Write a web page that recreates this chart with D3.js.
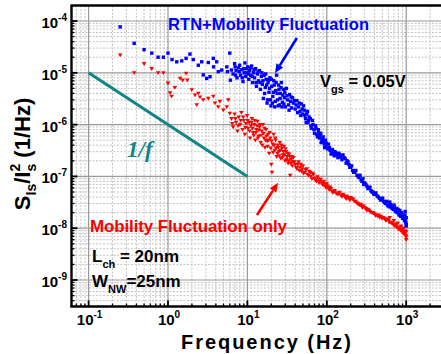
<!DOCTYPE html>
<html><head><meta charset="utf-8">
<script src="https://cdn.jsdelivr.net/npm/d3@7"></script>
<style>
body{margin:0;background:#fff}
svg{display:block}
text{font-family:"Liberation Sans",Arial,Helvetica,sans-serif;font-weight:bold}
text.serif{font-family:"Liberation Serif","Times New Roman",serif;font-style:italic}
</style>
</head><body>
<svg id="chart" width="441" height="354"></svg>
<script>
// decade tick exponents
const xTickExps = [-1, 0, 1, 2, 3];
const yTickExps = [-9, -8, -7, -6, -5, -4];

// Normalized drain-current noise spectrum, RTN + mobility fluctuation [Hz, 1/Hz]
const rtnSpectrum = [
  [0.25,7.7e-5],[0.375,3.7e-5],[0.5,2.8e-5],[0.625,2.4e-5],[0.75,2.0e-5],[0.875,2.0e-5],[1.0,2.4e-5],
  [1.125,1.8e-5],[1.29,1.63e-5],[1.49,1.7e-5],[1.69,1.9e-5],[1.89,2.3e-5],[2.08,1.8e-5],[2.41,1.4e-5],
  [2.66,1.63e-5],[2.78,9.1e-6],[3.07,7.8e-6],[3.22,1.58e-5],[3.38,8.4e-6],[3.72,1.9e-5],[3.75,1.3e-5],
  [4.1,1.63e-5],[4.3,1.05e-5],[4.75,1.13e-5],[5.5,1.3e-5],[5.6,1.05e-5],[6.0,2.4e-5],[6.1,7.2e-6],
  [6.3,1.13e-5],[7.0,1.3e-5],[6.6,9.5e-6],[6.9,1.5e-5],[7.2,1.1e-5],[7.4,8.0e-6],[7.7,1.25e-5],
  [8.0,1.4e-5],[8.2,9.0e-6],[8.5,1.15e-5],[8.8,6.8e-6],[9.0,1.2e-5],[9.3,1.55e-5],[9.5,8.5e-6],
  [9.8,1.0e-5],[10.1,1.3e-5],[10.4,7.5e-6],[10.7,1.1e-5],[11.0,9.0e-6],[11.3,1.35e-5],[11.6,6.5e-6],
  [12.0,1.0e-5],[12.3,8.0e-6],[12.7,1.2e-5],[13.0,5.5e-6],[13.4,9.5e-6],[13.8,7.0e-6],[14.2,1.1e-5],
  [14.6,4.8e-6],[15.0,8.5e-6],[15.4,6.0e-6],[15.9,3.2e-6],[16.3,9.0e-6],[16.8,5.2e-6],[17.2,7.5e-6],
  [17.7,2.6e-6],[18.2,6.5e-6],[18.7,4.2e-6],[19.2,8.0e-6],[19.8,2.3e-6],[20.3,5.5e-6],[20.9,3.5e-6],
  [21.5,7.0e-6],[22.1,2.2e-6],[22.7,4.5e-6],[23.3,9.0e-6],[24.0,3.0e-6],[24.7,5.8e-6],[25.4,2.4e-6],
  [26.1,4.0e-6],[26.8,6.5e-6],[27.6,2.7e-6],[28.4,4.8e-6],[29.2,3.3e-6],[30,2.2e-6],[31,5.0e-6],
  [7.1,9.0e-6],[7.9,1.05e-5],[8.6,8.0e-6],[9.1,1.0e-5],[9.7,1.2e-5],[10.3,9.5e-6],[10.9,1.25e-5],
  [11.5,8.5e-6],[12.1,1.15e-5],[12.9,6.5e-6],[13.6,1.05e-5],[14.4,6.5e-6],[15.2,1.0e-5],[15.7,7.0e-6],
  [16.5,4.0e-6],[17.0,9.5e-6],[17.5,5.8e-6],[18.0,3.0e-6],[18.5,7.2e-6],[19.0,5.0e-6],[19.5,3.0e-6],
  [20.1,7.5e-6],[20.6,2.6e-6],[21.2,4.2e-6],[21.8,5.8e-6],[22.4,2.8e-6],[23.0,6.5e-6],[23.7,4.0e-6],
  [24.4,2.3e-6],[25.0,4.8e-6],[25.8,3.2e-6],[26.5,5.2e-6],[27.2,2.2e-6],[28.0,3.7e-6],[28.8,2.5e-6],
  [29.6,4.2e-6],
  [32,3.0e-6],[33,2.4e-6],[34,3.8e-6],[35,2.8e-6],[36,2.1e-6],[37,3.3e-6],[38,2.6e-6],[40,2.0e-6],
  [42,2.9e-6],[44,2.2e-6],[46,1.8e-6],[48,2.5e-6],[50,1.6e-6],[52,1.9e-6],[54,1.3e-6],[56,1.6e-6],
  [58,1.1e-6],[60,1.4e-6],[63,9.5e-7],[66,1.2e-6],[69,8.0e-7],[72,9.5e-7],[75,6.5e-7],[78,8.0e-7],
  [81,5.5e-7],[84,6.8e-7],[87,4.8e-7],[90,5.8e-7],[93,4.2e-7],[96,5.0e-7],[100,3.8e-7],[105,4.2e-7],
  [31.5,3.6e-6],[33.5,1.9e-6],[35.5,3.4e-6],[39,2.9e-6],[41,2.4e-6],[43,1.7e-6],[45,2.6e-6],[47,1.5e-6],
  [49,2.0e-6],[51,2.3e-6],[53,1.5e-6],[55,1.1e-6],[57,1.8e-6],[59,1.2e-6],[62,1.3e-6],[64,8.5e-7],
  [67,1.0e-6],[70,6.8e-7],[73,8.5e-7],[76,5.8e-7],[79,7.0e-7],[82,6.2e-7],[85,4.5e-7],[88,5.2e-7],
  [91,4.8e-7],[94,3.6e-7],[98,4.4e-7],[102,3.4e-7],
  [110,3.2e-7],[115,3.0e-7],[120,2.8e-7],[127,3.0e-7],[135,2.6e-7],[142,2.8e-7],[150,2.4e-7],
  [160,2.6e-7],[170,2.2e-7],[180,2.0e-7],[190,1.7e-7],[200,1.5e-7],[212,1.3e-7],[225,1.2e-7],
  [240,1.05e-7],[255,9.5e-8],[270,8.5e-8],[285,9.0e-8],[300,7.5e-8],[320,6.5e-8],[340,6.0e-8],
  [108,3.6e-7],[113,2.7e-7],[118,3.3e-7],[124,2.5e-7],[131,2.8e-7],[138,2.3e-7],[146,2.6e-7],
  [155,2.1e-7],[165,2.3e-7],[175,1.8e-7],[185,1.9e-7],[195,1.5e-7],[205,1.6e-7],[218,1.2e-7],
  [232,1.3e-7],[248,1.0e-7],[262,1.05e-7],[278,8.0e-8],[292,7.0e-8],[310,7.0e-8],[330,5.8e-8],
  [360,5.3e-8],[380,5.0e-8],[400,4.5e-8],[430,4.2e-8],[460,3.8e-8],[490,3.6e-8],[520,3.3e-8],
  [550,3.0e-8],[580,2.8e-8],[610,2.6e-8],[650,2.5e-8],[690,2.3e-8],[730,2.1e-8],[770,2.0e-8],
  [810,1.8e-8],[850,1.7e-8],[900,1.55e-8],[950,1.4e-8],[1000,1.2e-8],[620,3.2e-8],[700,2.8e-8],
  [760,2.4e-8],[830,2.2e-8],[880,1.9e-8],[960,1.8e-8],[1000,1.6e-8],
  [350,6.2e-8],[370,5.0e-8],[390,4.6e-8],[415,4.8e-8],[445,4.0e-8],[475,3.5e-8],[505,3.8e-8],
  [535,3.1e-8],[565,3.3e-8],[595,2.7e-8],[635,2.9e-8],[670,2.4e-8],[710,2.6e-8],[745,2.2e-8],
  [790,2.3e-8],[820,1.9e-8],[870,2.0e-8],[920,1.7e-8],[940,1.6e-8],[980,1.5e-8],[990,1.3e-8],
  [1000,1.1e-8],[970,2.1e-8]
];

// Mobility fluctuation only [Hz, 1/Hz]
const mobilitySpectrum = [
  [0.25,2.2e-5],[0.375,1.0e-5],[0.5,1.5e-5],[0.625,1.2e-5],[0.75,1.0e-5],[0.875,1.0e-5],[1.0,6.3e-6],
  [1.06,4.1e-6],[1.11,3.5e-6],[1.22,5.2e-6],[1.42,7.8e-6],[1.53,7.2e-6],[1.69,9.8e-6],[1.75,7.2e-6],
  [1.99,4.7e-6],[2.19,3.7e-6],[2.41,4.0e-6],[2.53,3.4e-6],[2.3,2.4e-6],[2.78,3.0e-6],[3.22,3.2e-6],
  [3.72,3.5e-6],[3.9,2.6e-6],[4.3,2.2e-6],[4.51,2.8e-6],[4.97,1.9e-6],[5.5,2.2e-6],[5.75,3.0e-6],
  [6.0,1.65e-6],[6.3,1.3e-6],[6.6,9.0e-7],[6.9,1.6e-6],[7.2,1.1e-6],[7.5,7.5e-7],[7.8,1.4e-6],
  [8.1,1.0e-6],[8.4,1.7e-6],[8.7,8.0e-7],[9.0,1.2e-6],[9.3,6.5e-7],[9.6,1.05e-6],[9.9,1.5e-6],
  [10.2,8.5e-7],[10.5,1.1e-6],[10.8,5.5e-7],[11.1,9.5e-7],[11.4,1.3e-6],[11.8,7.0e-7],[12.2,1.0e-6],
  [12.6,5.0e-7],[13.0,8.0e-7],[13.4,1.15e-6],[13.8,6.0e-7],[14.2,9.0e-7],[14.7,4.5e-7],[15.2,7.5e-7],
  [15.7,1.0e-6],[16.2,5.5e-7],[16.7,3.6e-7],[17.2,8.0e-7],[17.7,4.8e-7],[18.2,6.5e-7],[18.8,2.8e-7],
  [19.4,5.5e-7],[20.0,1.7e-7],[20.4,1.2e-7],[20.8,4.2e-7],[21.4,6.5e-7],[22.0,3.2e-7],[22.7,5.0e-7],
  [23.4,2.4e-7],[24.1,4.0e-7],[24.8,3.0e-7],[25.6,4.5e-7],[26.4,2.2e-7],[27.2,3.5e-7],[28.0,2.6e-7],
  [28.9,3.8e-7],[29.8,2.0e-7],[30.7,3.0e-7],[31.6,2.4e-7],[32.6,1.8e-7],[33.6,2.7e-7],[34.6,1.05e-7],
  [6.45,1.05e-6],[7.05,1.3e-6],[7.65,9.5e-7],[8.25,1.2e-6],[8.85,1.4e-6],[9.45,8.8e-7],[10.05,1.2e-6],
  [10.65,7.5e-7],[11.25,1.1e-6],[11.6,8.5e-7],[12.0,6.2e-7],[12.4,1.2e-6],[12.8,7.0e-7],[13.2,9.5e-7],
  [13.6,5.5e-7],[14.0,7.8e-7],[14.5,1.0e-6],[14.9,6.2e-7],[15.4,4.0e-7],[15.9,6.8e-7],[16.4,8.5e-7],
  [16.9,5.0e-7],[17.4,6.0e-7],[18.0,3.8e-7],[18.5,5.0e-7],[19.1,7.0e-7],[19.7,3.5e-7],[20.2,4.8e-7],
  [21.1,2.9e-7],[21.7,4.0e-7],[22.4,5.5e-7],[23.0,3.5e-7],[23.8,2.8e-7],[24.5,3.6e-7],[25.2,2.5e-7],
  [26.0,3.2e-7],[26.8,4.0e-7],[27.6,2.3e-7],[28.5,3.0e-7],[29.3,2.6e-7],[30.2,3.4e-7],[31.1,2.1e-7],
  [32.1,2.8e-7],[33.1,2.0e-7],[34.1,2.4e-7],[35.1,1.8e-7],[36.2,2.4e-7],[37.3,1.9e-7],
  [35.6,2.1e-7],[36.7,1.6e-7],[38,2.3e-7],[40,1.7e-7],[42,1.4e-7],[44,1.9e-7],[46,1.5e-7],[48,1.25e-7],
  [50,1.6e-7],[53,1.2e-7],[56,1.4e-7],[59,1.05e-7],[62,1.2e-7],[65,9.0e-8],[68,1.1e-7],[72,8.5e-8],
  [76,9.8e-8],[80,7.5e-8],[84,8.8e-8],[88,7.0e-8],[92,8.0e-8],[96,6.5e-8],[100,7.2e-8],[105,5.8e-8],
  [39,1.9e-7],[41,1.5e-7],[43,1.7e-7],[45,1.3e-7],[47,1.7e-7],[49,1.4e-7],[51,1.15e-7],[54,1.35e-7],
  [57,1.1e-7],[60,1.25e-7],[63,1.0e-7],[66,1.15e-7],[70,9.2e-8],[74,8.0e-8],[78,9.0e-8],[82,8.0e-8],
  [86,7.5e-8],[90,6.8e-8],[94,7.2e-8],[98,6.0e-8],
  [110,6.2e-8],[116,5.2e-8],[122,5.0e-8],[130,4.8e-8],[140,4.6e-8],[150,4.3e-8],[160,4.5e-8],
  [170,4.0e-8],[180,4.1e-8],[190,3.8e-8],[200,3.9e-8],[215,3.6e-8],[230,3.3e-8],[245,3.0e-8],
  [260,2.8e-8],[275,2.6e-8],[290,2.7e-8],[310,2.4e-8],[330,2.3e-8],[350,2.1e-8],[375,2.0e-8],
  [400,1.9e-8],[425,1.8e-8],[450,1.8e-8],[480,1.7e-8],[510,1.6e-8],[540,1.5e-8],[570,1.45e-8],
  [600,1.4e-8],[640,1.3e-8],[680,1.2e-8],[720,1.1e-8],[760,1.05e-8],[800,9.5e-9],[850,9.0e-9],
  [900,8.2e-9],[950,7.5e-9],[1000,6.8e-9],[620,1.6e-8],[700,1.4e-8],[780,1.25e-8],[860,1.1e-8],
  [930,1.0e-8],[980,8.8e-9],[1000,6.0e-9],
  [103,6.5e-8],[108,5.5e-8],[113,5.8e-8],[119,4.9e-8],[126,5.3e-8],[135,4.5e-8],[145,4.9e-8],
  [155,4.1e-8],[165,4.2e-8],[175,3.7e-8],[185,3.8e-8],[195,3.5e-8],[208,3.7e-8],[222,3.3e-8],
  [238,3.1e-8],[252,2.9e-8],[268,2.9e-8],[282,2.5e-8],[300,2.5e-8],[320,2.2e-8],[340,2.2e-8],
  [362,2.0e-8],[388,1.95e-8],[412,1.75e-8],[438,1.7e-8],[465,1.6e-8],[495,1.55e-8],[525,1.55e-8],
  [555,1.4e-8],[585,1.5e-8],[615,1.3e-8],[660,1.25e-8],[700,1.15e-8],[740,1.2e-8],[790,1.05e-8],
  [830,1.0e-8],[880,9.5e-9],[920,8.8e-9],[960,8.0e-9],[990,7.2e-9],[1000,8.5e-9]
];

// 1/f reference slope
const slopeFreq = [0.1, 10];
const slopeVal = [1e-5, 1e-7];

const svg = d3.select('#chart');
const L = 71.5, T = 5.5, B = 306.5, R = 470;

const x = d3.scaleLog().domain([0.1, 1000]).range([88.6, 406.2]);
const y = d3.scaleLog().domain([1e-4, 1e-9]).range([21, 280]);

svg.append('rect').attr('width', 441).attr('height', 354).attr('fill', '#fff');

svg.append('defs').append('clipPath').attr('id', 'plot')
  .append('rect').attr('x', L).attr('y', T).attr('width', R - L).attr('height', B - T);

// grid
const grid = svg.append('g').attr('clip-path', 'url(#plot)');
const xMinor = [], yMinor = [];
for (let e = -2; e <= 3; e++) for (let m = 2; m <= 9; m++) xMinor.push(m * Math.pow(10, e));
for (let e = -10; e <= -4; e++) for (let m = 2; m <= 9; m++) yMinor.push(m * Math.pow(10, e));
const xMajor = xTickExps.map(e => Math.pow(10, e));
const yMajor = yTickExps.map(e => Math.pow(10, e));

grid.selectAll('.vx').data(xMinor).join('line')
  .attr('x1', d => x(d)).attr('x2', d => x(d)).attr('y1', T).attr('y2', B)
  .attr('stroke', '#c4c4c4').attr('stroke-width', 1).attr('stroke-dasharray', '2,1.5');
grid.selectAll('.hy').data(yMinor).join('line')
  .attr('y1', d => y(d)).attr('y2', d => y(d)).attr('x1', L).attr('x2', R)
  .attr('stroke', '#c4c4c4').attr('stroke-width', 1).attr('stroke-dasharray', '2,1.5');
grid.selectAll('.vX').data(xMajor).join('line')
  .attr('x1', d => x(d)).attr('x2', d => x(d)).attr('y1', T).attr('y2', B)
  .attr('stroke', '#9a9a9a').attr('stroke-width', 1.2);
grid.selectAll('.hY').data(yMajor).join('line')
  .attr('y1', d => y(d)).attr('y2', d => y(d)).attr('x1', L).attr('x2', R)
  .attr('stroke', '#9a9a9a').attr('stroke-width', 1.2);

// data
const marks = svg.append('g').attr('clip-path', 'url(#plot)');
marks.append('path')
  .attr('d', d3.line()(slopeFreq.map((f, i) => [x(f), y(slopeVal[i])])))
  .attr('stroke', '#0f8585').attr('stroke-width', 3).attr('fill', 'none');

marks.selectAll('.red').data(mobilitySpectrum).join('path')
  .attr('d', 'M-2.3,-1.6L2.3,-1.6L0,2.2Z')
  .attr('transform', d => `translate(${x(d[0])},${y(d[1])})`)
  .attr('fill', '#ff0000');
marks.selectAll('.blue').data(rtnSpectrum).join('rect')
  .attr('x', d => x(d[0]) - 1.7).attr('y', d => y(d[1]) - 1.7)
  .attr('width', 3.4).attr('height', 3.4).attr('fill', '#0000ff');

// frame
const frame = svg.append('g').attr('stroke', '#000').attr('fill', 'none');
frame.append('line').attr('x1', L - 1).attr('x2', 441).attr('y1', T).attr('y2', T).attr('stroke-width', 2.6);
frame.append('line').attr('x1', L).attr('x2', L).attr('y1', T).attr('y2', B).attr('stroke-width', 2.4);
frame.append('line').attr('x1', L - 1.2).attr('x2', 441).attr('y1', B).attr('y2', B).attr('stroke-width', 2.6);

// ticks (inward)
const ticks = svg.append('g').attr('stroke', '#000').attr('stroke-width', 1.3);
xMinor.filter(d => x(d) > L && x(d) < 441).forEach(d =>
  ticks.append('line').attr('x1', x(d)).attr('x2', x(d)).attr('y1', B).attr('y2', B - 3));
xMajor.forEach(d =>
  ticks.append('line').attr('x1', x(d)).attr('x2', x(d)).attr('y1', B).attr('y2', B - 6).attr('stroke-width', 1.8));
yMinor.filter(d => y(d) > T && y(d) < B).forEach(d =>
  ticks.append('line').attr('y1', y(d)).attr('y2', y(d)).attr('x1', L).attr('x2', L + 3));
yMajor.forEach(d =>
  ticks.append('line').attr('y1', y(d)).attr('y2', y(d)).attr('x1', L).attr('x2', L + 6).attr('stroke-width', 1.8));

// tick labels
xTickExps.forEach(e => {
  const t = svg.append('text').attr('x', x(Math.pow(10, e)) + 1).attr('y', 325)
    .attr('text-anchor', 'middle').attr('font-size', 15).attr('fill', '#000');
  t.append('tspan').text('10');
  t.append('tspan').attr('dy', -7).attr('font-size', 10).text(e);
});
yTickExps.forEach(e => {
  const t = svg.append('text').attr('x', 67).attr('y', y(Math.pow(10, e)) + 7)
    .attr('text-anchor', 'end').attr('font-size', 15).attr('fill', '#000');
  t.append('tspan').text('10');
  t.append('tspan').attr('dy', -7).attr('font-size', 10).text(e);
});

// axis titles
svg.append('text').attr('x', 181).attr('y', 349).attr('font-size', 20)
  .attr('textLength', 170).text('Frequency (Hz)');

const yt = svg.append('text').attr('transform', 'translate(30,154) rotate(-90)')
  .attr('text-anchor', 'middle').attr('font-size', 22);
yt.append('tspan').text('S');
yt.append('tspan').attr('dy', 6).attr('font-size', 14).text('Is');
yt.append('tspan').attr('dy', -6).text('/I');
yt.append('tspan').attr('dy', -10).attr('font-size', 14).text('2');
yt.append('tspan').attr('dx', -7.8).attr('dy', 16).attr('font-size', 14).text('s');
yt.append('tspan').attr('dy', -6).text(' (1/Hz)');

// annotations
svg.append('text').attr('x', 168).attr('y', 30).attr('font-size', 16.5).attr('fill', '#0000ff')
  .attr('textLength', 201).text('RTN+Mobility Fluctuation');
svg.append('text').attr('x', 90).attr('y', 232).attr('font-size', 17).attr('fill', '#ff0000')
  .attr('textLength', 197).text('Mobility Fluctuation only');

const vg = svg.append('text').attr('x', 320).attr('y', 87).attr('font-size', 16.5).attr('fill', '#000');
vg.append('tspan').text('V');
vg.append('tspan').attr('dy', 6).attr('font-size', 11).text('gs');
vg.append('tspan').attr('dy', -6).text(' = 0.05V');

const lc = svg.append('text').attr('x', 92).attr('y', 262).attr('font-size', 17).attr('fill', '#000');
lc.append('tspan').text('L');
lc.append('tspan').attr('dy', 6).attr('font-size', 11).text('ch');
lc.append('tspan').attr('dy', -6).text(' = 20nm');

const wn = svg.append('text').attr('x', 92).attr('y', 287).attr('font-size', 17).attr('fill', '#000');
wn.append('tspan').text('W');
wn.append('tspan').attr('dy', 6).attr('font-size', 11).text('NW');
wn.append('tspan').attr('dy', -6).text('=25nm');

svg.append('text').attr('class', 'serif').attr('x', 127).attr('y', 157).attr('font-size', 23)
  .attr('fill', '#0f8585').text('1/f');

// arrows, anchored in data coordinates
function arrow(f0, s0, f1, s1, color) {
  const x0 = x(f0), y0 = y(s0), x1 = x(f1), y1 = y(s1);
  const a = Math.atan2(y1 - y0, x1 - x0), hl = 9, hw = 4;
  const bx = x1 - hl * Math.cos(a), by = y1 - hl * Math.sin(a);
  svg.append('line').attr('x1', x0).attr('y1', y0).attr('x2', bx).attr('y2', by)
    .attr('stroke', color).attr('stroke-width', 2.6);
  const px = -Math.sin(a) * hw, py = Math.cos(a) * hw;
  svg.append('path').attr('d', `M${x1},${y1}L${bx + px},${by + py}L${bx - px},${by - py}Z`).attr('fill', color);
}
arrow(42, 4.7e-5, 22.3, 9.9e-6, '#0000ff');
arrow(13.2, 1.8e-8, 24.3, 7.5e-8, '#ff0000');
</script>
</body></html>
